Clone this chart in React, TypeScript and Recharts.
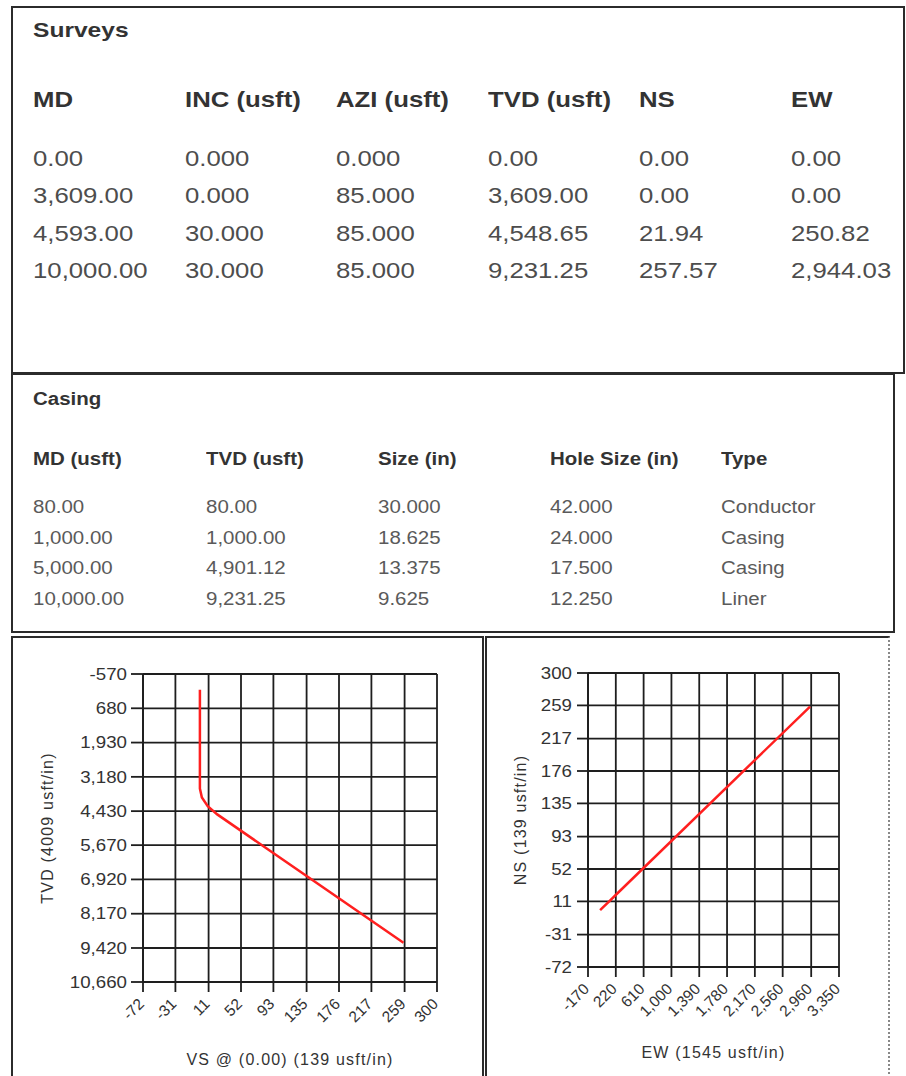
import React from 'react';
import { LineChart, Line, XAxis, YAxis, CartesianGrid } from 'recharts';

// survey table
const surveyHeaders = ['MD', 'INC (usft)', 'AZI (usft)', 'TVD (usft)', 'NS', 'EW'];
const surveyMd = [0, 3609, 4593, 10000];
const surveyInc = [0, 0, 30, 30];
const surveyAzi = [0, 85, 85, 85];
const surveyTvd = [0, 3609, 4548.65, 9231.25];
const surveyNs = [0, 0, 21.94, 257.57];
const surveyEw = [0, 0, 250.82, 2944.03];

// casing table
const casingHeaders = ['MD (usft)', 'TVD (usft)', 'Size (in)', 'Hole Size (in)', 'Type'];
const casingMd = [80, 1000, 5000, 10000];
const casingTvd = [80, 1000, 4901.12, 9231.25];
const casingSize = [30, 18.625, 13.375, 9.625];
const casingHole = [42, 24, 17.5, 12.25];
const casingType = ['Conductor', 'Casing', 'Casing', 'Liner'];

// well path (build section between 3,609 and 4,549 TVD)
const pathVs = [0, 0, 2.5, 9.9, 21.94, 257.57];
const pathTvd = [0, 3609, 3935, 4252, 4548.65, 9231.25];
const pathEw = [0, 0, 28.4, 113, 250.82, 2944.03];
const pathNs = [0, 0, 2.5, 9.9, 21.94, 257.57];

// axis ticks
const vsTicks = [-72, -31, 11, 52, 93, 135, 176, 217, 259, 300];
const tvdTicks = [-570, 680, 1930, 3180, 4430, 5670, 6920, 8170, 9420, 10660];
const ewTicks = [-170, 220, 610, 1000, 1390, 1780, 2170, 2560, 2960, 3350];
const nsTicks = [-72, -31, 11, 52, 93, 135, 176, 217, 259, 300];

const FONT = '"Liberation Sans", Arial, Helvetica, sans-serif';
const STRETCH = 1.17;

const fmt = (v: number, d: number) =>
  v.toLocaleString('en-US', { minimumFractionDigits: d, maximumFractionDigits: d });

const sectionData = pathVs.map((vs, i) => ({ vs, tvd: pathTvd[i] }));
const planData = pathEw.map((ew, i) => ({ ew, ns: pathNs[i] }));

function Cell({ x, y, size, bold, color, children }: any) {
  return (
    <div
      style={{
        position: 'absolute',
        left: x,
        top: y - size * 0.49,
        fontSize: size,
        lineHeight: `${size}px`,
        fontWeight: bold ? 700 : 400,
        color,
        whiteSpace: 'nowrap',
        transform: `scaleX(${STRETCH})`,
        transformOrigin: '0 0',
      }}
    >
      {children}
    </div>
  );
}

const YTick = ({ x, y, payload }: any) => (
  <g transform={`translate(${x},${y}) scale(${STRETCH},1)`}>
    <text textAnchor="end" dy="0.36em" fontSize={16} fill="#333" fontFamily={FONT}>
      {Number(payload.value).toLocaleString('en-US')}
    </text>
  </g>
);

const XTick = ({ x, y, payload }: any) => (
  <g transform={`translate(${x + 2},${y + 11}) rotate(-45)`}>
    <text textAnchor="end" fontSize={15.5} fill="#333" fontFamily={FONT}>
      {Number(payload.value).toLocaleString('en-US')}
    </text>
  </g>
);

const gridStroke = '#1e1e1e';
const lineRed = '#ff1f1f';

export default function App() {
  const surveyCols = [33, 185, 336, 488, 639, 791];
  const surveyRows = [158.5, 196, 233.5, 271];
  const surveyValues = [
    surveyMd.map((v) => fmt(v, 2)),
    surveyInc.map((v) => fmt(v, 3)),
    surveyAzi.map((v) => fmt(v, 3)),
    surveyTvd.map((v) => fmt(v, 2)),
    surveyNs.map((v) => fmt(v, 2)),
    surveyEw.map((v) => fmt(v, 2)),
  ];

  const casingCols = [33, 206, 378, 550, 721];
  const casingRows = [508, 538.5, 569, 600];
  const casingValues = [
    casingMd.map((v) => fmt(v, 2)),
    casingTvd.map((v) => fmt(v, 2)),
    casingSize.map((v) => fmt(v, 3)),
    casingHole.map((v) => fmt(v, 3)),
    casingType,
  ];

  const border = '2px solid #2b2b2b';

  return (
    <div
      style={{
        position: 'absolute',
        left: 0,
        top: 0,
        width: 906,
        height: 1076,
        overflow: 'hidden',
        background: '#fff',
        fontFamily: FONT,
      }}
    >
      {/* Surveys */}
      <div style={{ position: 'absolute', left: 11, top: 6, width: 894, height: 368, border, boxSizing: 'border-box' }} />
      <Cell x={33} y={29} size={21} bold color="#333">Surveys</Cell>
      {surveyHeaders.map((h, i) => (
        <Cell key={h} x={surveyCols[i]} y={100} size={22} bold color="#333">{h}</Cell>
      ))}
      {surveyValues.map((col, c) =>
        col.map((v, r) => (
          <Cell key={`s${c}-${r}`} x={surveyCols[c]} y={surveyRows[r]} size={22} color="#4d4d4d">{v}</Cell>
        ))
      )}

      {/* Casing */}
      <div style={{ position: 'absolute', left: 11, top: 373, width: 884, height: 260, border, boxSizing: 'border-box' }} />
      <Cell x={33} y={400} size={17.5} bold color="#333">Casing</Cell>
      {casingHeaders.map((h, i) => (
        <Cell key={h} x={casingCols[i]} y={460} size={17.5} bold color="#333">{h}</Cell>
      ))}
      {casingValues.map((col, c) =>
        col.map((v, r) => (
          <Cell key={`c${c}-${r}`} x={casingCols[c]} y={casingRows[r]} size={17.5} color="#5a5a5a">{v}</Cell>
        ))
      )}

      {/* chart frames */}
      <div style={{ position: 'absolute', left: 11, top: 636, width: 473, height: 450, border, boxSizing: 'border-box' }} />
      <div
        style={{
          position: 'absolute',
          left: 485,
          top: 636,
          width: 405,
          height: 450,
          borderLeft: border,
          borderTop: border,
          borderRight: '2px dotted #888',
          boxSizing: 'border-box',
        }}
      />

      {/* Vertical section */}
      <div style={{ position: 'absolute', left: 12, top: 636 }}>
        <LineChart width={470} height={440} data={sectionData} margin={{ top: 38, right: 45, bottom: 0, left: 0 }}>
          <CartesianGrid stroke={gridStroke} strokeWidth={1.8} />
          <XAxis
            type="number"
            dataKey="vs"
            domain={[-72, 300]}
            ticks={vsTicks}
            interval={0}
            allowDataOverflow
            height={94}
            tickSize={10}
            tickMargin={2}
            tick={<XTick />}
            axisLine={{ stroke: gridStroke, strokeWidth: 1.8 }}
            tickLine={{ stroke: gridStroke, strokeWidth: 1.8 }}
            label={{
              value: 'VS @ (0.00) (139 usft/in)',
              position: 'insideBottom',
              offset: 11,
              fontSize: 16,
              fill: '#333',
              fontFamily: FONT,
              letterSpacing: 1.2,
            }}
          />
          <YAxis
            type="number"
            domain={[-570, 10660]}
            ticks={tvdTicks}
            interval={0}
            reversed
            allowDataOverflow
            width={131}
            tickSize={12}
            tickMargin={4}
            tick={<YTick />}
            axisLine={{ stroke: gridStroke, strokeWidth: 1.8 }}
            tickLine={{ stroke: gridStroke, strokeWidth: 1.8 }}
            label={{
              value: 'TVD (4009 usft/in)',
              angle: -90,
              position: 'insideLeft',
              offset: 35,
              fontSize: 16,
              fill: '#333',
              fontFamily: FONT,
              letterSpacing: 1.2,
              style: { textAnchor: 'middle' },
            }}
          />
          <Line type="linear" dataKey="tvd" stroke={lineRed} strokeWidth={2.5} dot={false} isAnimationActive={false} />
        </LineChart>
      </div>

      {/* Plan view */}
      <div style={{ position: 'absolute', left: 486, top: 636 }}>
        <LineChart width={404} height={440} data={planData} margin={{ top: 37, right: 51, bottom: 0, left: 0 }}>
          <CartesianGrid stroke={gridStroke} strokeWidth={1.8} />
          <XAxis
            type="number"
            dataKey="ew"
            domain={[-170, 3350]}
            ticks={ewTicks}
            interval={0}
            allowDataOverflow
            height={109}
            tickSize={10}
            tickMargin={2}
            tick={<XTick />}
            axisLine={{ stroke: gridStroke, strokeWidth: 1.8 }}
            tickLine={{ stroke: gridStroke, strokeWidth: 1.8 }}
            label={{
              value: 'EW (1545 usft/in)',
              position: 'insideBottom',
              offset: 18,
              fontSize: 16,
              fill: '#333',
              fontFamily: FONT,
              letterSpacing: 1.2,
            }}
          />
          <YAxis
            type="number"
            domain={[-72, 300]}
            ticks={nsTicks}
            interval={0}
            allowDataOverflow
            width={102}
            tickSize={11}
            tickMargin={5}
            tick={<YTick />}
            axisLine={{ stroke: gridStroke, strokeWidth: 1.8 }}
            tickLine={{ stroke: gridStroke, strokeWidth: 1.8 }}
            label={{
              value: 'NS (139 usft/in)',
              angle: -90,
              position: 'insideLeft',
              offset: 34,
              fontSize: 16,
              fill: '#333',
              fontFamily: FONT,
              letterSpacing: 1.2,
              style: { textAnchor: 'middle' },
            }}
          />
          <Line type="linear" dataKey="ns" stroke={lineRed} strokeWidth={2.5} dot={false} isAnimationActive={false} />
        </LineChart>
      </div>
    </div>
  );
}
